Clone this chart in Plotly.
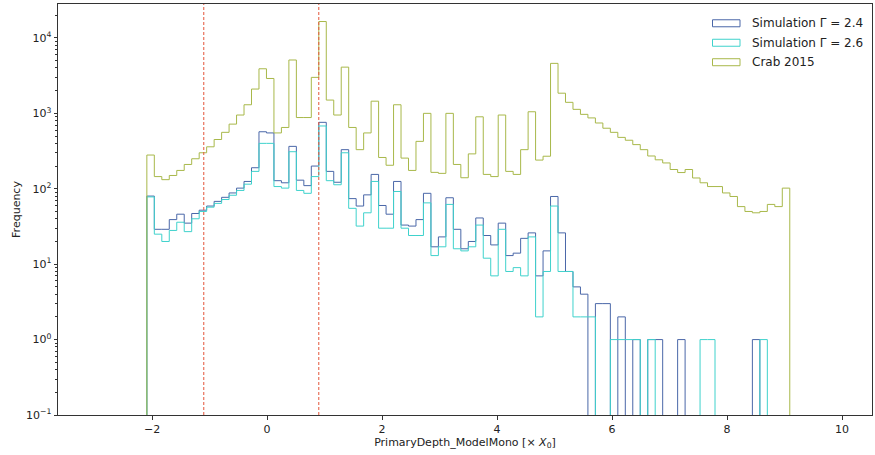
import numpy as np
import plotly.graph_objects as go

# ---------------- data ----------------
bin_lo, bin_hi, n_bins = -2.09, 9.09, 86
bin_edges = np.linspace(bin_lo, bin_hi, n_bins + 1)

sim_gamma_24 = [80, 29, 29, 39, 46, 35, 47, 52, 59, 68,
                77, 88, 102, 125, 190, 570, 550, 128, 120, 365,
                130, 110, 200, 760, 170, 122, 330, 74, 59, 83,
                155, 60, 46, 125, 33, 32, 39, 87, 17, 23,
                76, 29, 16, 20, 41, 24, 18, 35, 13, 14,
                22, 26, 7, 15, 79, 26, 8, 5, 4, 0,
                3, 3, 0, 2, 0, 1, 0, 1, 1, 0,
                0, 1, 0, 0, 0, 0, 0, 0, 0, 0,
                0, 1, 0, 0, 0, 0]

sim_gamma_26 = [78, 25, 20, 28, 36, 27, 40, 50, 57, 64,
                72, 82, 95, 115, 170, 400, 400, 107, 102, 310,
                95, 87, 145, 680, 128, 113, 300, 55, 32, 48,
                125, 30, 30, 92, 30, 24, 24, 65, 13, 17,
                62, 16, 15, 17, 33, 12, 7, 29, 8, 9,
                7, 23, 2, 8, 59, 8, 8, 2, 2, 2,
                0, 0, 1, 1, 1, 1, 0, 1, 0, 0,
                0, 0, 0, 0, 1, 1, 0, 0, 0, 0,
                0, 0, 1, 0, 0, 0]

crab_2015 = [280, 145, 132, 150, 175, 210, 250, 300, 360, 450,
             560, 720, 950, 1300, 2100, 3900, 2900, 550, 650, 5100,
             880, 880, 3000, 16500, 1500, 950, 4100, 650, 330, 550,
             1450, 260, 205, 1300, 255, 175, 425, 1000, 165, 160,
             1000, 210, 140, 290, 900, 155, 145, 950, 170, 155,
             330, 1050, 240, 270, 4600, 1850, 1400, 1130, 970, 870,
             745, 635, 560, 480, 440, 385, 330, 272, 242, 220,
             180, 164, 180, 139, 120, 107, 107, 88, 79, 58,
             50, 48, 50, 62, 58, 102]

series_names = ["Simulation Γ = 2.4", "Simulation Γ = 2.6", "Crab 2015"]
series_colors = ["#4a67a8", "#3fd2cc", "#a8b84a"]
cut_values = [-1.1, 0.9]
x_ticks = [-2, 0, 2, 4, 6, 8, 10]
y_tick_exps = [-1, 0, 1, 2, 3, 4]

FLOOR = 1e-3


def step_outline(edges, counts):
    xs = [edges[0]] + list(edges[:-1]) + [edges[-1]]
    ys = [FLOOR] + [c if c > 0 else FLOOR for c in counts] + [FLOOR]
    return xs, ys


fig = go.Figure()
for name, counts, col in zip(series_names,
                             [sim_gamma_24, sim_gamma_26, crab_2015],
                             series_colors):
    xs, ys = step_outline(bin_edges, counts)
    fig.add_trace(go.Scatter(x=xs, y=ys, mode="lines", name=name,
                             line=dict(color=col, width=1, shape="hv"),
                             showlegend=False))

for cv in cut_values:
    fig.add_shape(type="line", xref="x", yref="paper", x0=cv, x1=cv, y0=0, y1=1,
                  line=dict(color="#e4553a", width=1, dash="3px,2px"))

# manual legend (matplotlib-style outlined patches)
L, R, T, B = 58, 872, 4, 415.5
def px2paper(px, py):
    return (px - L) / (R - L), (B - py) / (B - T)

for i, (name, col) in enumerate(zip(series_names, series_colors)):
    cy = 23.3 + i * 19.5
    x0, y0 = px2paper(712.5, cy + 3.5)
    x1, y1 = px2paper(740, cy - 3.5)
    fig.add_shape(type="rect", xref="paper", yref="paper", x0=x0, x1=x1, y0=y0, y1=y1,
                  line=dict(color=col, width=1), fillcolor="rgba(0,0,0,0)")
    tx, ty = px2paper(750, cy)
    fig.add_annotation(xref="paper", yref="paper", x=tx, y=ty, text=name,
                       showarrow=False, xanchor="left", yanchor="middle",
                       font=dict(size=12, color="#222"))

fig.update_layout(
    width=875, height=455,
    margin=dict(l=L, r=875 - R, t=T, b=455 - B),
    plot_bgcolor="white", paper_bgcolor="white",
    font=dict(family="DejaVu Sans", size=11, color="#222"),
    showlegend=False,
)
fig.update_xaxes(range=[-3.635, 10.52], tickvals=x_ticks,
                 ticktext=[("−" if t < 0 else "") + str(abs(t)) for t in x_ticks],
                 ticks="outside", ticklen=3.5, tickcolor="#333",
                 showline=True, mirror=True, linecolor="#333", linewidth=1,
                 showgrid=False, zeroline=False,
                 title=dict(text="PrimaryDepth_ModelMono [× <i>X</i><sub>0</sub>]",
                            font=dict(size=11), standoff=3))
fig.update_yaxes(type="log", range=[-1, 4.45],
                 tickvals=[10.0 ** e for e in y_tick_exps],
                 ticktext=["10<sup>" + ("−" if e < 0 else "") + str(abs(e)) + "</sup>" for e in y_tick_exps],
                 ticks="outside", ticklen=3.5, tickcolor="#333",
                 minor=dict(ticks="outside", ticklen=2, dtick="D1", tickcolor="#333"),
                 showline=True, mirror=True, linecolor="#333", linewidth=1,
                 showgrid=False, zeroline=False,
                 title=dict(text="Frequency", font=dict(size=11), standoff=3))

fig.write_html("out.html")
